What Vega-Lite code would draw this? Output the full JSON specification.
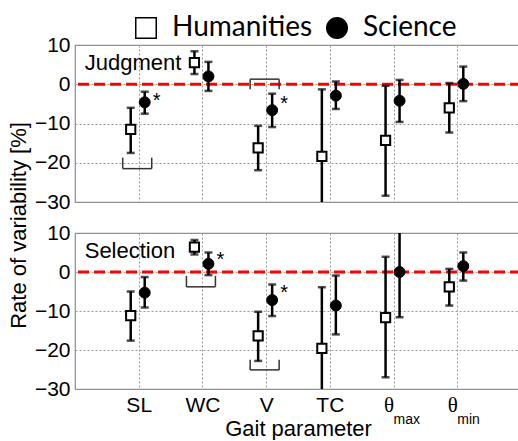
{
  "$schema": "https://vega.github.io/schema/vega-lite/v6.json",
  "padding": {"left": 6, "top": 13, "right": 0, "bottom": 0},
  "background": "white",
  "bounds": "flush",
  "spacing": 31,
  "resolve": {"scale": {"shape": "independent", "fill": "independent"}},
  "config": {
    "view": {"stroke": "#8c8c8c", "strokeWidth": 1.2},
    "axis": {"domain": false, "ticks": false, "grid": true, "gridColor": "#9a9a9a", "gridDash": [2, 2], "gridWidth": 1, "labelOverlap": false,
      "labelFont": "Liberation Sans", "labelFontSize": 21, "labelColor": "#000",
      "titleFont": "Liberation Sans", "titleFontSize": 22, "titleFontWeight": "normal", "titleColor": "#000"},
    "axisY": {"labelOverlap": false, "labelSeparation": -40},
    "axisQuantitative": {"labelOverlap": false},
    "axisLeft": {"labelOverlap": false},
    "text": {"font": "Liberation Sans", "color": "#000"}
  },
  "datasets": {
    "bars": [
      {"panel": "Judgment", "param": "SL", "group": "Humanities", "mean": -11.5, "lo": -17.5, "hi": -6.0},
      {"panel": "Judgment", "param": "SL", "group": "Science", "mean": -4.6, "lo": -7.5, "hi": -1.9},
      {"panel": "Judgment", "param": "WC", "group": "Humanities", "mean": 5.5, "lo": 2.6, "hi": 8.4},
      {"panel": "Judgment", "param": "WC", "group": "Science", "mean": 2.0, "lo": -1.7, "hi": 5.7},
      {"panel": "Judgment", "param": "V", "group": "Humanities", "mean": -16.2, "lo": -21.9, "hi": -10.6},
      {"panel": "Judgment", "param": "V", "group": "Science", "mean": -6.6, "lo": -10.9, "hi": -2.4},
      {"panel": "Judgment", "param": "TC", "group": "Humanities", "mean": -18.4, "lo": -35.5, "hi": -1.3},
      {"panel": "Judgment", "param": "TC", "group": "Science", "mean": -2.9, "lo": -6.3, "hi": 0.7},
      {"panel": "Judgment", "param": "θmax", "group": "Humanities", "mean": -14.3, "lo": -28.4, "hi": -0.4},
      {"panel": "Judgment", "param": "θmax", "group": "Science", "mean": -4.2, "lo": -9.6, "hi": 1.1},
      {"panel": "Judgment", "param": "θmin", "group": "Humanities", "mean": -6.0, "lo": -12.3, "hi": 0.3},
      {"panel": "Judgment", "param": "θmin", "group": "Science", "mean": 0.1, "lo": -4.3, "hi": 4.5},
      {"panel": "Selection", "param": "SL", "group": "Humanities", "mean": -11.2, "lo": -17.6, "hi": -5.0},
      {"panel": "Selection", "param": "SL", "group": "Science", "mean": -5.3, "lo": -9.1, "hi": -1.3},
      {"panel": "Selection", "param": "WC", "group": "Humanities", "mean": 6.4, "lo": 4.5, "hi": 8.2},
      {"panel": "Selection", "param": "WC", "group": "Science", "mean": 2.1, "lo": -0.8, "hi": 5.0},
      {"panel": "Selection", "param": "V", "group": "Humanities", "mean": -16.4, "lo": -22.8, "hi": -10.2},
      {"panel": "Selection", "param": "V", "group": "Science", "mean": -7.2, "lo": -11.3, "hi": -3.2},
      {"panel": "Selection", "param": "TC", "group": "Humanities", "mean": -19.6, "lo": -35.3, "hi": -3.9},
      {"panel": "Selection", "param": "TC", "group": "Science", "mean": -8.6, "lo": -16.0, "hi": -0.9},
      {"panel": "Selection", "param": "θmax", "group": "Humanities", "mean": -11.7, "lo": -27.0, "hi": 3.9},
      {"panel": "Selection", "param": "θmax", "group": "Science", "mean": 0.0, "lo": -11.6, "hi": 11.6},
      {"panel": "Selection", "param": "θmin", "group": "Humanities", "mean": -3.8, "lo": -8.6, "hi": 0.8},
      {"panel": "Selection", "param": "θmin", "group": "Science", "mean": 1.5, "lo": -2.2, "hi": 5.0}
    ],
    "brackets": [
      {"panel": "Judgment", "param": "SL", "bar": -21.5, "hook": -18.7},
      {"panel": "Judgment", "param": "V", "bar": 1.3, "hook": -1.3},
      {"panel": "Selection", "param": "WC", "bar": -3.8, "hook": -1.0},
      {"panel": "Selection", "param": "V", "bar": -25.1, "hook": -22.5}
    ],
    "stars": [
      {"panel": "Judgment", "param": "SL", "y": -3.0, "mark": "*"},
      {"panel": "Judgment", "param": "V", "y": -3.7, "mark": "*"},
      {"panel": "Selection", "param": "WC", "y": 4.4, "mark": "*"},
      {"panel": "Selection", "param": "V", "y": -4.0, "mark": "*"}
    ],
    "labels": [
      {"panel": "Judgment", "param": "SL", "y": 5.3, "label": "Judgment"},
      {"panel": "Selection", "param": "SL", "y": 5.4, "label": "Selection"}
    ],
    "subs": [
      {"param": "θmax", "sub": "max"},
      {"param": "θmin", "sub": "min"}
    ]
  },
  "vconcat": [
    {
      "width": 446, "height": 157,
      "layer": [
        {"data": {"name": "labels"}, "transform": [{"filter": "datum.panel=='Judgment'"}],
         "mark": {"type": "rule", "color": "#ff0000", "strokeWidth": 3, "strokeDash": [11, 5]},
         "encoding": {"y": {"datum": 0, "type": "quantitative", "scale": {"domain": [-30, 10], "nice": false, "zero": false},
           "axis": {"tickCount": 5, "labelOverlap": false, "labelSeparation": -40, "labelFlush": false, "title": "Rate of variability [%]", "titleY": 180, "titlePadding": 4, "labelPadding": 5}}}},
        {"data": {"name": "bars"}, "transform": [{"filter": "datum.panel=='Judgment' && datum.group=='Humanities'"}],
         "mark": {"type": "rule", "color": "#000", "strokeWidth": 2.5, "xOffset": -8, "clip": true},
         "encoding": {"x": {"field": "param", "type": "nominal", "scale": {"type": "point", "domain": ["SL", "WC", "V", "TC", "θmax", "θmin"], "padding": 1},
           "axis": {"labels": false, "title": null, "grid": true}},
           "y": {"field": "lo", "type": "quantitative"}, "y2": {"field": "hi"}}},
        {"data": {"name": "bars"}, "transform": [{"filter": "datum.panel=='Judgment' && datum.group=='Humanities'"}],
         "mark": {"type": "tick", "color": "#000", "size": 8, "thickness": 2.5, "xOffset": -8, "clip": true},
         "encoding": {"x": {"field": "param", "type": "nominal"}, "y": {"field": "lo", "type": "quantitative"}}},
        {"data": {"name": "bars"}, "transform": [{"filter": "datum.panel=='Judgment' && datum.group=='Humanities'"}],
         "mark": {"type": "tick", "color": "#000", "size": 8, "thickness": 2.5, "xOffset": -8, "clip": true},
         "encoding": {"x": {"field": "param", "type": "nominal"}, "y": {"field": "hi", "type": "quantitative"}}},
        {"data": {"name": "bars"}, "transform": [{"filter": "datum.panel=='Judgment' && datum.group=='Science'"}],
         "mark": {"type": "rule", "color": "#000", "strokeWidth": 2.5, "xOffset": 6, "clip": true},
         "encoding": {"x": {"field": "param", "type": "nominal"}, "y": {"field": "lo", "type": "quantitative"}, "y2": {"field": "hi"}}},
        {"data": {"name": "bars"}, "transform": [{"filter": "datum.panel=='Judgment' && datum.group=='Science'"}],
         "mark": {"type": "tick", "color": "#000", "size": 8, "thickness": 2.5, "xOffset": 6, "clip": true},
         "encoding": {"x": {"field": "param", "type": "nominal"}, "y": {"field": "lo", "type": "quantitative"}}},
        {"data": {"name": "bars"}, "transform": [{"filter": "datum.panel=='Judgment' && datum.group=='Science'"}],
         "mark": {"type": "tick", "color": "#000", "size": 8, "thickness": 2.5, "xOffset": 6, "clip": true},
         "encoding": {"x": {"field": "param", "type": "nominal"}, "y": {"field": "hi", "type": "quantitative"}}},
        {"data": {"name": "bars"}, "transform": [{"filter": "datum.panel=='Judgment' && datum.group=='Humanities'"}],
         "mark": {"type": "point", "filled": true, "stroke": "#000", "strokeWidth": 2, "size": 85, "opacity": 1, "xOffset": -8, "clip": true},
         "encoding": {"x": {"field": "param", "type": "nominal"}, "y": {"field": "mean", "type": "quantitative"},
           "shape": {"datum": "Humanities", "type": "nominal", "scale": {"domain": ["Humanities", "Science"], "range": ["square", "circle"]},
             "legend": {"orient": "none", "legendX": 57, "legendY": -31, "direction": "horizontal", "title": null, "labelFont": "Lato", "labelFontSize": 28, "labelColor": "#000", "symbolSize": 420, "labelOffset": 12, "columnPadding": 10,
               "encode": {"symbols": {"update": {"stroke": {"value": "#000"}, "strokeWidth": {"value": 1.5}}}}}},
           "fill": {"datum": "Humanities", "type": "nominal", "scale": {"domain": ["Humanities", "Science"], "range": ["#ffffff", "#000000"]},
             "legend": {"orient": "none", "legendX": 57, "legendY": -31, "direction": "horizontal", "title": null, "labelFont": "Lato", "labelFontSize": 28, "labelColor": "#000", "symbolSize": 420, "labelOffset": 12, "columnPadding": 10,
               "encode": {"symbols": {"update": {"stroke": {"value": "#000"}, "strokeWidth": {"value": 1.5}}}}}}}},
        {"data": {"name": "bars"}, "transform": [{"filter": "datum.panel=='Judgment' && datum.group=='Science'"}],
         "mark": {"type": "point", "filled": true, "stroke": "#000", "strokeWidth": 1, "size": 120, "opacity": 1, "xOffset": 6, "clip": true},
         "encoding": {"x": {"field": "param", "type": "nominal"}, "y": {"field": "mean", "type": "quantitative"},
           "shape": {"datum": "Science", "type": "nominal"}, "fill": {"datum": "Science", "type": "nominal"}}},
        {"data": {"name": "brackets"}, "transform": [{"filter": "datum.panel=='Judgment'"}],
         "mark": {"type": "rule", "color": "#333", "strokeWidth": 1.5, "xOffset": -16, "x2Offset": 13},
         "encoding": {"x": {"field": "param", "type": "nominal"}, "x2": {"field": "param"}, "y": {"field": "bar", "type": "quantitative"}}},
        {"data": {"name": "brackets"}, "transform": [{"filter": "datum.panel=='Judgment'"}],
         "mark": {"type": "rule", "color": "#333", "strokeWidth": 1.5, "xOffset": -16},
         "encoding": {"x": {"field": "param", "type": "nominal"}, "y": {"field": "hook", "type": "quantitative"}, "y2": {"field": "bar"}}},
        {"data": {"name": "brackets"}, "transform": [{"filter": "datum.panel=='Judgment'"}],
         "mark": {"type": "rule", "color": "#333", "strokeWidth": 1.5, "xOffset": 13},
         "encoding": {"x": {"field": "param", "type": "nominal"}, "y": {"field": "hook", "type": "quantitative"}, "y2": {"field": "bar"}}},
        {"data": {"name": "stars"}, "transform": [{"filter": "datum.panel=='Judgment'"}],
         "mark": {"type": "text", "fontSize": 20, "dx": 18, "dy": 11, "baseline": "alphabetic", "align": "center"},
         "encoding": {"x": {"field": "param", "type": "nominal"}, "y": {"field": "y", "type": "quantitative"}, "text": {"field": "mark"}}},
        {"data": {"name": "labels"}, "transform": [{"filter": "datum.panel=='Judgment'"}],
         "mark": {"type": "text", "fontSize": 22, "dx": -54, "align": "left", "baseline": "middle"},
         "encoding": {"x": {"field": "param", "type": "nominal"}, "y": {"field": "y", "type": "quantitative"}, "text": {"field": "label"}}}
      ]
    },
    {
      "width": 446, "height": 156,
      "layer": [
        {"data": {"name": "labels"}, "transform": [{"filter": "datum.panel=='Selection'"}],
         "mark": {"type": "rule", "color": "#ff0000", "strokeWidth": 3, "strokeDash": [11, 5]},
         "encoding": {"y": {"datum": 0, "type": "quantitative", "scale": {"domain": [-30, 10], "nice": false, "zero": false},
           "axis": {"tickCount": 5, "labelOverlap": false, "labelSeparation": -40, "labelFlush": false, "title": null, "labelPadding": 5}}}},
        {"data": {"name": "bars"}, "transform": [{"filter": "datum.panel=='Selection' && datum.group=='Humanities'"}],
         "mark": {"type": "rule", "color": "#000", "strokeWidth": 2.5, "xOffset": -8, "clip": true},
         "encoding": {"x": {"field": "param", "type": "nominal", "scale": {"type": "point", "domain": ["SL", "WC", "V", "TC", "θmax", "θmin"], "padding": 1},
           "axis": {"title": "Gait parameter", "grid": true, "labelAngle": 0, "labelPadding": 5, "titlePadding": 3,
             "labelExpr": "datum.value=='θmax'||datum.value=='θmin' ? 'θ' : datum.value",
             "labelOffset": {"condition": {"test": "datum.value=='θmax'||datum.value=='θmin'", "value": -5}, "value": 0},
             "labelFont": {"condition": {"test": "datum.value=='θmax'||datum.value=='θmin'", "value": "Liberation Serif"}, "value": "Liberation Sans"}}},
           "y": {"field": "lo", "type": "quantitative"}, "y2": {"field": "hi"}}},
        {"data": {"name": "bars"}, "transform": [{"filter": "datum.panel=='Selection' && datum.group=='Humanities'"}],
         "mark": {"type": "tick", "color": "#000", "size": 8, "thickness": 2.5, "xOffset": -8, "clip": true},
         "encoding": {"x": {"field": "param", "type": "nominal"}, "y": {"field": "lo", "type": "quantitative"}}},
        {"data": {"name": "bars"}, "transform": [{"filter": "datum.panel=='Selection' && datum.group=='Humanities'"}],
         "mark": {"type": "tick", "color": "#000", "size": 8, "thickness": 2.5, "xOffset": -8, "clip": true},
         "encoding": {"x": {"field": "param", "type": "nominal"}, "y": {"field": "hi", "type": "quantitative"}}},
        {"data": {"name": "bars"}, "transform": [{"filter": "datum.panel=='Selection' && datum.group=='Science'"}],
         "mark": {"type": "rule", "color": "#000", "strokeWidth": 2.5, "xOffset": 6, "clip": true},
         "encoding": {"x": {"field": "param", "type": "nominal"}, "y": {"field": "lo", "type": "quantitative"}, "y2": {"field": "hi"}}},
        {"data": {"name": "bars"}, "transform": [{"filter": "datum.panel=='Selection' && datum.group=='Science'"}],
         "mark": {"type": "tick", "color": "#000", "size": 8, "thickness": 2.5, "xOffset": 6, "clip": true},
         "encoding": {"x": {"field": "param", "type": "nominal"}, "y": {"field": "lo", "type": "quantitative"}}},
        {"data": {"name": "bars"}, "transform": [{"filter": "datum.panel=='Selection' && datum.group=='Science'"}],
         "mark": {"type": "tick", "color": "#000", "size": 8, "thickness": 2.5, "xOffset": 6, "clip": true},
         "encoding": {"x": {"field": "param", "type": "nominal"}, "y": {"field": "hi", "type": "quantitative"}}},
        {"data": {"name": "bars"}, "transform": [{"filter": "datum.panel=='Selection' && datum.group=='Humanities'"}],
         "mark": {"type": "point", "filled": true, "stroke": "#000", "strokeWidth": 2, "size": 85, "opacity": 1, "xOffset": -8, "clip": true},
         "encoding": {"x": {"field": "param", "type": "nominal"}, "y": {"field": "mean", "type": "quantitative"},
           "shape": {"datum": "Humanities", "type": "nominal", "scale": {"domain": ["Humanities", "Science"], "range": ["square", "circle"]}, "legend": null},
           "fill": {"datum": "Humanities", "type": "nominal", "scale": {"domain": ["Humanities", "Science"], "range": ["#ffffff", "#000000"]}, "legend": null}}},
        {"data": {"name": "bars"}, "transform": [{"filter": "datum.panel=='Selection' && datum.group=='Science'"}],
         "mark": {"type": "point", "filled": true, "stroke": "#000", "strokeWidth": 1, "size": 120, "opacity": 1, "xOffset": 6, "clip": true},
         "encoding": {"x": {"field": "param", "type": "nominal"}, "y": {"field": "mean", "type": "quantitative"},
           "shape": {"datum": "Science", "type": "nominal"}, "fill": {"datum": "Science", "type": "nominal"}}},
        {"data": {"name": "brackets"}, "transform": [{"filter": "datum.panel=='Selection'"}],
         "mark": {"type": "rule", "color": "#333", "strokeWidth": 1.5, "xOffset": -16, "x2Offset": 13},
         "encoding": {"x": {"field": "param", "type": "nominal"}, "x2": {"field": "param"}, "y": {"field": "bar", "type": "quantitative"}}},
        {"data": {"name": "brackets"}, "transform": [{"filter": "datum.panel=='Selection'"}],
         "mark": {"type": "rule", "color": "#333", "strokeWidth": 1.5, "xOffset": -16},
         "encoding": {"x": {"field": "param", "type": "nominal"}, "y": {"field": "hook", "type": "quantitative"}, "y2": {"field": "bar"}}},
        {"data": {"name": "brackets"}, "transform": [{"filter": "datum.panel=='Selection'"}],
         "mark": {"type": "rule", "color": "#333", "strokeWidth": 1.5, "xOffset": 13},
         "encoding": {"x": {"field": "param", "type": "nominal"}, "y": {"field": "hook", "type": "quantitative"}, "y2": {"field": "bar"}}},
        {"data": {"name": "stars"}, "transform": [{"filter": "datum.panel=='Selection'"}],
         "mark": {"type": "text", "fontSize": 20, "dx": 18, "dy": 11, "baseline": "alphabetic", "align": "center"},
         "encoding": {"x": {"field": "param", "type": "nominal"}, "y": {"field": "y", "type": "quantitative"}, "text": {"field": "mark"}}},
        {"data": {"name": "labels"}, "transform": [{"filter": "datum.panel=='Selection'"}],
         "mark": {"type": "text", "fontSize": 22, "dx": -54, "align": "left", "baseline": "middle"},
         "encoding": {"x": {"field": "param", "type": "nominal"}, "y": {"field": "y", "type": "quantitative"}, "text": {"field": "label"}}},
        {"data": {"name": "subs"},
         "mark": {"type": "text", "fontSize": 14, "dx": 0, "dy": 31, "align": "left", "baseline": "middle"},
         "encoding": {"x": {"field": "param", "type": "nominal"}, "y": {"datum": -30, "type": "quantitative"}, "text": {"field": "sub"}}}
      ]
    }
  ]
}
